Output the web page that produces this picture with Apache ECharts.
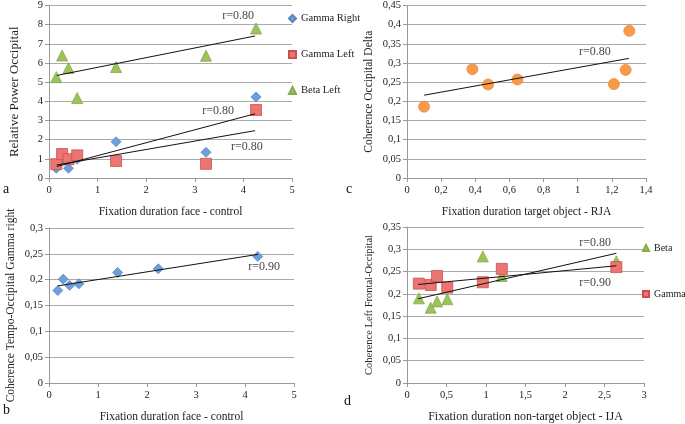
<!DOCTYPE html>
<html>
<head>
<meta charset="utf-8">
<script src="https://cdn.jsdelivr.net/npm/echarts@6/dist/echarts.min.js"></script>
<style>
  html, body { margin: 0; padding: 0; background: #fff; }
  #main { width: 685px; height: 424px; }
</style>
</head>
<body>
<div id="main"></div>
<script>
// panel a - relative power occipital
const aGammaRight = [[0.15, 0.51], [0.27, 1.0], [0.40, 0.51], [0.58, 0.98], [1.38, 1.89], [3.23, 1.34], [4.26, 4.23]];
const aGammaLeft = [[0.15, 0.72], [0.27, 1.25], [0.40, 0.98], [0.58, 1.18], [1.38, 0.89], [3.23, 0.74], [4.26, 3.55]];
const aBetaLeft = [[0.15, 5.26], [0.27, 6.39], [0.40, 5.74], [0.58, 4.17], [1.38, 5.79], [3.23, 6.38], [4.26, 7.8]];
const aTrendBeta = [[0.16, 5.35], [4.24, 7.41]];
const aTrendGammaLeft = [[0.16, 0.6], [4.24, 3.35]];
const aTrendGammaRight = [[0.16, 0.68], [4.24, 2.47]];
const aRLabels = [[3.89, 8.44, 'r=0.80'], [3.48, 3.5, 'r=0.80'], [4.07, 1.65, 'r=0.80']];

// panel c - coherence occipital delta
const cDelta = [[0.10, 0.186], [0.383, 0.284], [0.475, 0.244], [0.647, 0.257], [1.212, 0.245], [1.281, 0.282], [1.302, 0.384]];
const cTrend = [[0.10, 0.216], [1.30, 0.312]];
const cRLabels = [[1.10, 0.328, 'r=0.80']];

// panel b - coherence tempo-occipital gamma right
const bGamma = [[0.18, 0.179], [0.29, 0.201], [0.42, 0.189], [0.61, 0.192], [1.40, 0.214], [2.23, 0.221], [4.26, 0.245]];
const bTrend = [[0.18, 0.188], [4.27, 0.249]];
const bRLabels = [[4.39, 0.224, 'r=0.90']];

// panel d - coherence left frontal-occipital
const dBeta = [[0.15, 0.190], [0.30, 0.169], [0.38, 0.183], [0.51, 0.188], [0.96, 0.284], [1.20, 0.240], [2.65, 0.273]];
const dGamma = [[0.15, 0.223], [0.30, 0.220], [0.38, 0.240], [0.51, 0.214], [0.96, 0.226], [1.20, 0.256], [2.65, 0.260]];
const dTrendBeta = [[0.14, 0.189], [2.65, 0.291]];
const dTrendGamma = [[0.14, 0.221], [2.65, 0.263]];
const dRLabels = [[2.38, 0.3146, 'r=0.80'], [2.38, 0.2237, 'r=0.90']];

const FONT = '"Liberation Serif", "DejaVu Serif", serif';
const comma = v => String(Math.round(v * 100) / 100).replace('.', ',');

const BLUE = '#6e9fdb', RED = '#ec7471', GREEN = '#9cc25c', ORANGE = '#f79a4a';

function xAxisOf(grid, max, interval, name, fmt, nameSize) {
  return {
    type: 'value', gridIndex: grid, min: 0, max: max, interval: interval,
    name: name, nameLocation: 'middle', nameGap: 28,
    nameTextStyle: { fontFamily: FONT, fontSize: nameSize, color: '#222' },
    axisLine: { show: true, lineStyle: { color: '#999' } },
    axisTick: { show: true, length: 4, lineStyle: { color: '#999' } },
    axisLabel: { fontFamily: FONT, fontSize: 10.5, color: '#222', margin: 7, formatter: fmt },
    splitLine: { show: false }
  };
}
function yAxisOf(grid, max, interval, name, fmt, gap, nameSize) {
  return {
    type: 'value', gridIndex: grid, min: 0, max: max, interval: interval,
    name: name, nameLocation: 'middle', nameGap: gap,
    nameTextStyle: { fontFamily: FONT, fontSize: nameSize, color: '#222' },
    axisLine: { show: true, lineStyle: { color: '#999' } },
    axisTick: { show: true, length: 4, lineStyle: { color: '#999' } },
    axisLabel: { fontFamily: FONT, fontSize: 10.5, color: '#222', margin: 6, formatter: fmt },
    splitLine: { show: true, lineStyle: { color: '#aaa', width: 1 } }
  };
}
function scatter(name, ax, data, symbol, size, color, border) {
  return {
    name: name, type: 'scatter', xAxisIndex: ax, yAxisIndex: ax, data: data,
    symbol: symbol, symbolSize: size,
    itemStyle: { color: color, borderColor: border, borderWidth: 0.8, opacity: 1 },
    z: 3
  };
}
function trend(ax, data) {
  return {
    type: 'line', xAxisIndex: ax, yAxisIndex: ax, data: data,
    showSymbol: false, symbol: 'none', silent: true,
    lineStyle: { color: '#111', width: 1 }, z: 4
  };
}
function rLabels(ax, data) {
  return {
    type: 'scatter', xAxisIndex: ax, yAxisIndex: ax, symbolSize: 0, silent: true,
    data: data.map(d => ({ value: [d[0], d[1]], name: d[2] })),
    label: { show: true, position: 'inside', formatter: p => p.name, fontFamily: FONT, fontSize: 12, color: '#111' },
    z: 5
  };
}

const chart = echarts.init(document.getElementById('main'), null, { renderer: 'canvas' });

const panelLetter = (x, y, t) => ({
  type: 'text', left: x, top: y,
  style: { text: t, font: '14px ' + FONT, fill: '#111' }
});

chart.setOption({
  animation: false,
  backgroundColor: '#fff',
  grid: [
    { left: 49, top: 3, width: 243, height: 175 },
    { left: 407, top: 5, width: 239, height: 173 },
    { left: 49, top: 228, width: 245, height: 158 },
    { left: 407, top: 227, width: 237, height: 158 }
  ],
  xAxis: [
    xAxisOf(0, 5, 1, 'Fixation duration face - control', v => v, 11.5),
    xAxisOf(1, 1.4, 0.2, 'Fixation duration target object - RJA', comma, 11.5),
    xAxisOf(2, 5, 1, 'Fixation duration face - control', v => v, 11.5),
    xAxisOf(3, 3, 0.5, 'Fixation duration non-target object - IJA', comma, 12)
  ],
  yAxis: [
    yAxisOf(0, 9, 1, 'Relative Power Occipital', v => v, 28, 13),
    yAxisOf(1, 0.45, 0.05, 'Coherence Occipital Delta', comma, 32, 11.5),
    yAxisOf(2, 0.3, 0.05, 'Coherence Tempo-Occipital Gamma right', comma, 32, 11.5),
    yAxisOf(3, 0.35, 0.05, 'Coherence Left Frontal-Occipital', comma, 32, 10.5)
  ],
  legend: [
    {
      orient: 'vertical', left: 288, top: 13, padding: 0, itemGap: 25, itemWidth: 7, itemHeight: 7,
      textStyle: { fontFamily: FONT, fontSize: 10.5, color: '#222' },
      data: [
        { name: 'Gamma Right', icon: 'diamond' },
        { name: 'Gamma Left', icon: 'rect' },
        { name: 'Beta Left', icon: 'triangle' }
      ],
      selectedMode: false
    },
    {
      orient: 'vertical', left: 642, top: 243, padding: 0, itemGap: 36, itemWidth: 6, itemHeight: 6,
      textStyle: { fontFamily: FONT, fontSize: 10, color: '#222' },
      data: [
        { name: 'Beta', icon: 'triangle' },
        { name: 'Gamma', icon: 'rect' }
      ],
      selectedMode: false
    }
  ],
  graphic: [
    panelLetter(3, 182, 'a'),
    panelLetter(346, 182, 'c'),
    panelLetter(3, 403, 'b'),
    panelLetter(344, 394, 'd')
  ],
  series: [
    scatter('Gamma Right', 0, aGammaRight, 'diamond', 10, BLUE, '#5a86c0'),
    scatter('Gamma Left', 0, aGammaLeft, 'rect', 11, RED, '#c9504d'),
    scatter('Beta Left', 0, aBetaLeft, 'triangle', 11, GREEN, '#86ab48'),
    trend(0, aTrendBeta),
    trend(0, aTrendGammaLeft),
    trend(0, aTrendGammaRight),
    rLabels(0, aRLabels),

    scatter('Delta', 1, cDelta, 'circle', 11, ORANGE, '#f08a38'),
    trend(1, cTrend),
    rLabels(1, cRLabels),

    scatter('Gamma Right b', 2, bGamma, 'diamond', 10, BLUE, '#5a86c0'),
    trend(2, bTrend),
    rLabels(2, bRLabels),

    scatter('Beta', 3, dBeta, 'triangle', 11, GREEN, '#86ab48'),
    scatter('Gamma', 3, dGamma, 'rect', 11, RED, '#c9504d'),
    trend(3, dTrendBeta),
    trend(3, dTrendGamma),
    rLabels(3, dRLabels)
  ]
});
</script>
</body>
</html>
